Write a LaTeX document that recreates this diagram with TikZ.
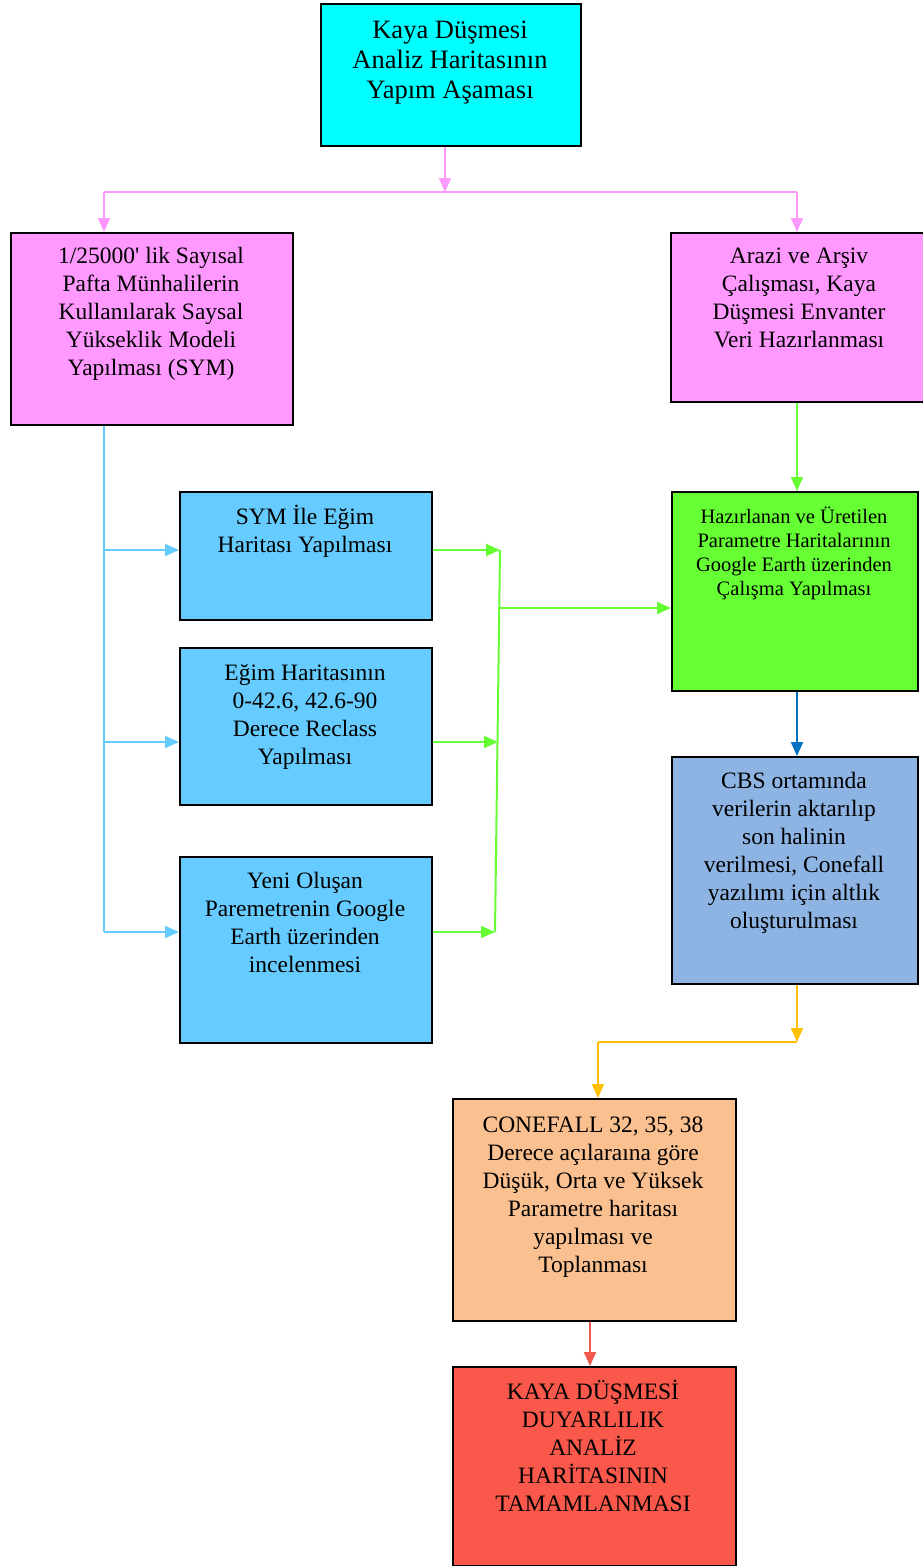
\documentclass[tikz,border=0pt]{standalone}
\usepackage{fontspec}
\setmainfont[Ligatures=TeXOff]{Liberation Serif}
\usetikzlibrary{arrows.meta,calc}
\definecolor{cCyan}{HTML}{00FFFF}
\definecolor{cPink}{HTML}{FF99FF}
\definecolor{cBlue}{HTML}{66CCFF}
\definecolor{cGreen}{HTML}{66FF33}
\definecolor{cSlate}{HTML}{8EB4E3}
\definecolor{cPeach}{HTML}{FAC090}
\definecolor{cRed}{HTML}{F9584B}
\definecolor{lPink}{HTML}{FF99FF}
\definecolor{lBlue}{HTML}{66CCFF}
\definecolor{lGreen}{HTML}{66FF33}
\definecolor{lDark}{HTML}{0070C0}
\definecolor{lYellow}{HTML}{FFC000}
\definecolor{lRed}{HTML}{F0584E}
\begin{document}
\begin{tikzpicture}[x=1pt,y=1pt,
 box/.style={draw=black, line width=2pt, rectangle, inner sep=0pt, anchor=north west},
 txt/.style={anchor=north, align=center, inner sep=0pt},
 big/.style={font=\fontsize{26.5}{30}\selectfont},
 mid/.style={font=\fontsize{23.5}{28}\selectfont},
 small/.style={font=\fontsize{20.5}{24}\selectfont},
 conn/.style={line width=2pt},
 arr/.style={conn, -{Triangle[length=14pt,width=12pt]}},
]
\clip (0,0) rectangle (923,-1566);
\fill[white] (0,0) rectangle (923,-1566);

% boxes
\node[box, fill=cCyan, minimum width=260, minimum height=142] (top) at (320,-3) {};
\node[box, fill=cPink, minimum width=282, minimum height=192] (lp) at (10,-232) {};
\node[box, fill=cPink, minimum width=260, minimum height=169] (rp) at (670,-232) {};
\node[box, fill=cBlue, minimum width=252, minimum height=128] (b1) at (179,-491) {};
\node[box, fill=cBlue, minimum width=252, minimum height=157] (b2) at (179,-647) {};
\node[box, fill=cBlue, minimum width=252, minimum height=186] (b3) at (179,-856) {};
\node[box, fill=cGreen, minimum width=246, minimum height=199] (gr) at (671,-491) {};
\node[box, fill=cSlate, minimum width=246, minimum height=227] (cbs) at (671,-756) {};
\node[box, fill=cPeach, minimum width=283, minimum height=222] (pe) at (452,-1098) {};
\node[box, fill=cRed, minimum width=283, minimum height=199] (rd) at (452,-1366) {};

% texts
\node[txt, big] (topT) at (450,-17) {\strut Kaya Düşmesi\\Analiz Haritasının\\Yapım Aşaması};
\node[txt, mid] (lpT) at (151,-244) {\strut 1/25000' lik Sayısal\\Pafta Münhalilerin\\Kullanılarak Saysal\\Yükseklik Modeli\\Yapılması (SYM)};
\node[txt, mid] (rpT) at (799,-244) {\strut Arazi ve Arşiv\\Çalışması, Kaya\\Düşmesi Envanter\\Veri Hazırlanması};
\node[txt, mid] (b1T) at (305,-505) {\strut SYM İle Eğim\\Haritası Yapılması};
\node[txt, mid] (b2T) at (305,-661) {\strut Eğim Haritasının\\0-42.6, 42.6-90\\Derece Reclass\\Yapılması};
\node[txt, mid] (b3T) at (305,-869) {\strut Yeni Oluşan\\Paremetrenin Google\\Earth üzerinden\\incelenmesi};
\node[txt, small] (grT) at (794,-506) {\strut Hazırlanan ve Üretilen\\Parametre Haritalarının\\Google Earth üzerinden\\Çalışma Yapılması};
\node[txt, mid] (cbsT) at (794,-769) {\strut CBS ortamında\\verilerin aktarılıp\\son halinin\\verilmesi, Conefall\\yazılımı için altlık\\oluşturulması};
\node[txt, mid] (peT) at (593,-1113) {\strut CONEFALL 32, 35, 38\\Derece açılaraına göre\\Düşük, Orta ve Yüksek\\Parametre haritası\\yapılması ve\\Toplanması};
\node[txt, mid] (rdT) at (593,-1380) {\strut KAYA DÜŞMESİ\\DUYARLILIK\\ANALİZ\\HARİTASININ\\TAMAMLANMASI};

% pink connectors
\coordinate (pj) at (445,-192);
\coordinate (pL) at (104,-192);
\coordinate (pR) at (797,-192);
\draw[arr, lPink] (top.south -| pj) -- (pj);
\draw[conn, lPink] (pL) -- (pR);
\draw[arr, lPink] (pL) -- (pL |- lp.north);
\draw[arr, lPink] (pR) -- (pR |- rp.north);

% light blue connectors
\coordinate (bj1) at (104,-550);
\coordinate (bj2) at (104,-742);
\coordinate (bj3) at (104,-932);
\draw[conn, lBlue] (lp.south -| bj3) -- (bj3);
\draw[arr, lBlue] (bj1) -- (bj1 -| b1.west);
\draw[arr, lBlue] (bj2) -- (bj2 -| b2.west);
\draw[arr, lBlue] (bj3) -- (bj3 -| b3.west);

% green connectors
\coordinate (g1) at (500,-550);
\coordinate (g2) at (498,-742);
\coordinate (g3) at (495,-932);
\coordinate (gm) at (499,-608);
\draw[conn, lGreen] (g1) -- (g3);
\draw[arr, lGreen] (b1.east |- g1) -- (g1);
\draw[arr, lGreen] (b2.east |- g2) -- (g2);
\draw[arr, lGreen] (b3.east |- g3) -- (g3);
\draw[arr, lGreen] (gm) -- (gm -| gr.west);
\coordinate (gc) at (797,0);
\draw[arr, lGreen] (gc |- rp.south) -- (gc |- gr.north);

% dark blue
\draw[arr, lDark] (gc |- gr.south) -- (gc |- cbs.north);

% yellow
\coordinate (y1) at (797,-1042);
\coordinate (y2) at (598,-1042);
\draw[arr, lYellow] (gc |- cbs.south) -- (y1);
\draw[conn, lYellow] (y1) -- (y2);
\draw[arr, lYellow] (y2) -- (y2 |- pe.north);

% red
\coordinate (rc) at (590,0);
\draw[arr, lRed] (rc |- pe.south) -- (rc |- rd.north);
\end{tikzpicture}
\end{document}
